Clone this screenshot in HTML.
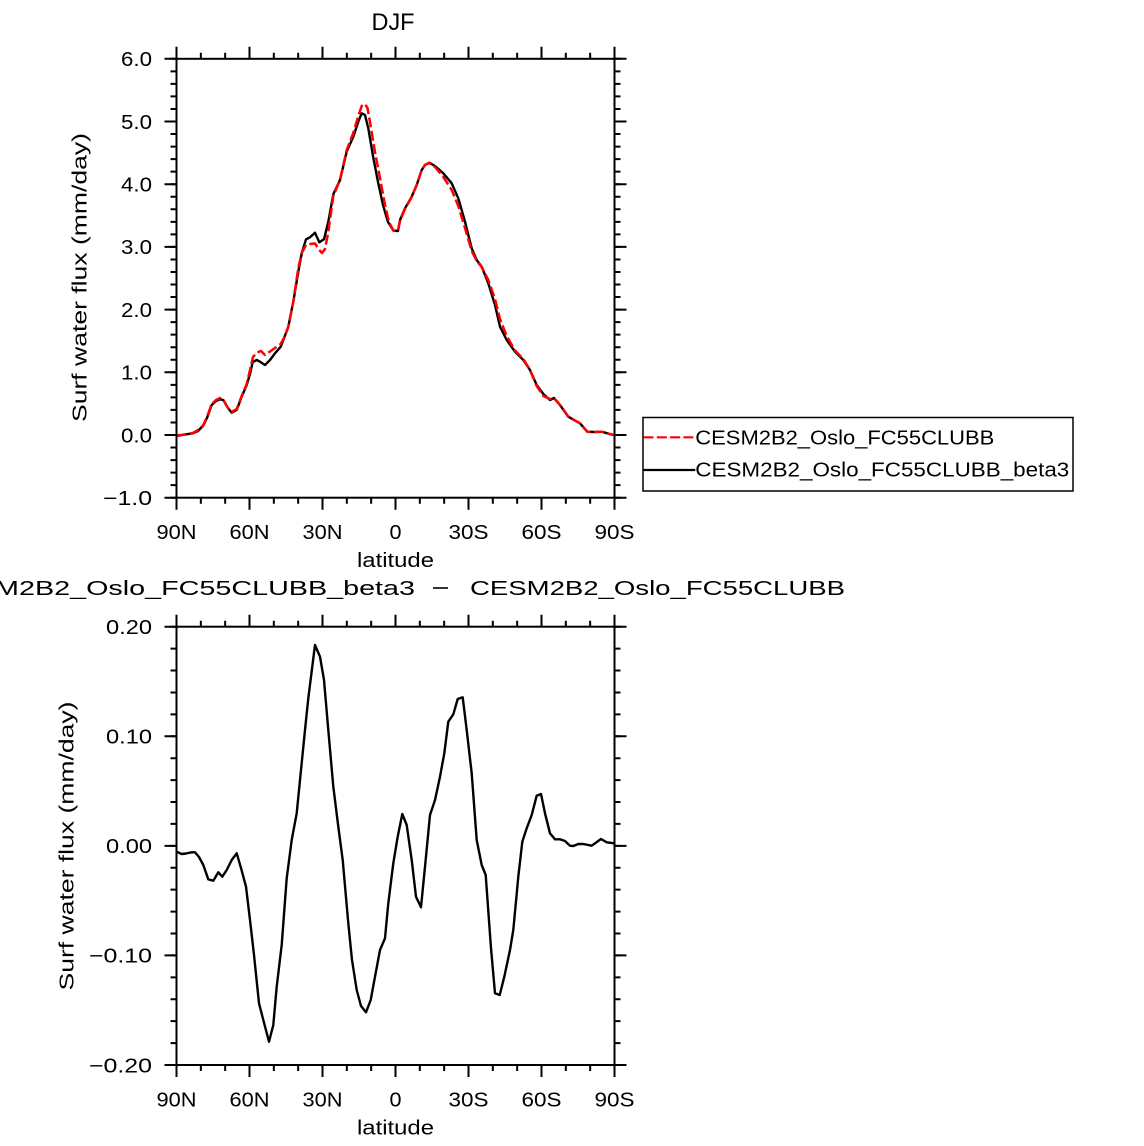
<!DOCTYPE html>
<html>
<head>
<meta charset="utf-8">
<style>
html,body{margin:0;padding:0;background:#fff;}
svg{display:block;}
text{font-family:"Liberation Sans",sans-serif;fill:#000;}
</style>
</head>
<body>
<svg width="1144" height="1146" viewBox="0 0 1144 1146" xmlns="http://www.w3.org/2000/svg">
<rect x="0" y="0" width="1144" height="1146" fill="#fff"/>

<!-- ================= TOP PLOT ================= -->
<text x="393" y="30" font-size="24" text-anchor="middle" textLength="43" lengthAdjust="spacingAndGlyphs">DJF</text>

<!-- curves -->
<polyline fill="none" stroke="#000" stroke-width="2.4" stroke-linejoin="round" points="176.5,435.7 185,434.5 193,433.3 198,431 203.3,425.5 207,418 211.7,405 216,401 220,399.3 223.3,400 228,408 231.7,412.7 236.7,410 241.7,396.7 246.7,385 250,374 252.7,362 256.7,360 260,361.7 265,365 270,360 275,353.3 280.7,346.7 284,338.3 288.3,326.7 293.3,301.7 298.3,271.7 301.7,253.3 306,239.3 310,237.3 315,232.7 319.3,242.3 324,239.3 328.3,221.7 333.3,194.3 340,180 346.7,151.7 353.3,136.7 358.3,121.7 361.7,113.3 365,115 368.3,128.3 373,156 378,182 383,205 388,222 393.3,230.5 398,231 400,220 405,208.3 411.7,196.7 416.7,185 421.7,170 425,165 429.3,162.7 435,166 443.3,173.3 451.7,183.3 458.3,198.3 465,221.7 471.7,248.3 476.7,260 481.7,266.7 488.3,283.3 495,305 500,326.7 506.7,340 515,351.7 523.3,360 530,370 536.7,385 543.3,394 550,400 554,398 560,405 568.3,416.7 580,423.3 587.3,431.7 594,432 601.7,431.7 613.3,435"/>
<polyline fill="none" stroke="#ff0000" stroke-width="2.5" stroke-dasharray="10 3.5" stroke-linejoin="round" points="176.5,436 185,434.5 193,433 198,430 203.3,425 207,417 211.7,404 216,400 220,398 223.3,400 228,408 231.7,412 236.7,409 241.7,396 246.7,384 250,370 253,357 257,352.5 261,351 265,355 270,351.5 275,348 280.7,344 284.5,337 288.3,326.7 293.3,301.7 298.3,268 301.7,253 306,245 310,244 315,243.5 319.3,250 322,253 325,249 328.3,232 333.3,196 340,180 346.7,150 353.3,133 358.3,116 361.7,106 365,104 367.5,108 370,122 375,152 380,178 385,205 389,222 393.3,230.5 398,231 400,221 405,209 411.7,197 416.7,185 421.7,170 425,165 429.3,163 435,167 443.3,177 451.7,190 458.3,206 465,228 471.7,251 476.7,261 481.7,267 488.3,280 495,299 500,319 506.7,336 515,350.5 523.3,359 530,370 536.7,386 543.3,396 550,399 554,398 560,405 568.3,416.7 580,423.3 587.3,431.7 594,432 601.7,431.7 613.3,435"/>

<!-- axes box -->
<rect x="176.5" y="58.8" width="438" height="438.9" fill="none" stroke="#000" stroke-width="2"/>
<!-- left ticks -->
<line x1="173.5" y1="57.8" x2="173.5" y2="499" stroke="#000" stroke-width="6" stroke-dasharray="2 10.54"/>
<line x1="170.5" y1="57.8" x2="170.5" y2="499" stroke="#000" stroke-width="12" stroke-dasharray="2 60.7"/>
<!-- right ticks -->
<line x1="617.5" y1="57.8" x2="617.5" y2="499" stroke="#000" stroke-width="6" stroke-dasharray="2 10.54"/>
<line x1="620.5" y1="57.8" x2="620.5" y2="499" stroke="#000" stroke-width="12" stroke-dasharray="2 60.7"/>
<!-- top ticks -->
<line x1="175.5" y1="55.8" x2="617" y2="55.8" stroke="#000" stroke-width="6" stroke-dasharray="2 22.333"/>
<line x1="175.5" y1="52.8" x2="617" y2="52.8" stroke="#000" stroke-width="12" stroke-dasharray="2 71"/>
<!-- bottom ticks -->
<line x1="175.5" y1="500.7" x2="617" y2="500.7" stroke="#000" stroke-width="6" stroke-dasharray="2 22.333"/>
<line x1="175.5" y1="503.7" x2="617" y2="503.7" stroke="#000" stroke-width="12" stroke-dasharray="2 71"/>

<!-- y tick labels -->
<g font-size="20" text-anchor="end">
<text x="152" y="66.1" textLength="31" lengthAdjust="spacingAndGlyphs">6.0</text>
<text x="152" y="128.8" textLength="31" lengthAdjust="spacingAndGlyphs">5.0</text>
<text x="152" y="191.5" textLength="31" lengthAdjust="spacingAndGlyphs">4.0</text>
<text x="152" y="254.2" textLength="31" lengthAdjust="spacingAndGlyphs">3.0</text>
<text x="152" y="316.9" textLength="31" lengthAdjust="spacingAndGlyphs">2.0</text>
<text x="152" y="379.6" textLength="31" lengthAdjust="spacingAndGlyphs">1.0</text>
<text x="152" y="442.3" textLength="31" lengthAdjust="spacingAndGlyphs">0.0</text>
<text x="152" y="505" textLength="49" lengthAdjust="spacingAndGlyphs">−1.0</text>
</g>
<!-- x tick labels -->
<g font-size="20" text-anchor="middle">
<text x="176.5" y="539" textLength="40" lengthAdjust="spacingAndGlyphs">90N</text>
<text x="249.5" y="539" textLength="40" lengthAdjust="spacingAndGlyphs">60N</text>
<text x="322.5" y="539" textLength="40" lengthAdjust="spacingAndGlyphs">30N</text>
<text x="395.5" y="539" textLength="12" lengthAdjust="spacingAndGlyphs">0</text>
<text x="468.5" y="539" textLength="40" lengthAdjust="spacingAndGlyphs">30S</text>
<text x="541.5" y="539" textLength="40" lengthAdjust="spacingAndGlyphs">60S</text>
<text x="614.5" y="539" textLength="40" lengthAdjust="spacingAndGlyphs">90S</text>
<text x="395.5" y="567" textLength="77" lengthAdjust="spacingAndGlyphs">latitude</text>
</g>
<text transform="translate(86.7,277.5) rotate(-90)" font-size="20" text-anchor="middle" textLength="289" lengthAdjust="spacingAndGlyphs">Surf  water  flux  (mm/day)</text>

<!-- legend -->
<rect x="643" y="417.5" width="430" height="73.5" fill="#fff" stroke="#000" stroke-width="1.5"/>
<line x1="643.5" y1="437.3" x2="695.3" y2="437.3" stroke="#ff0000" stroke-width="2.2" stroke-dasharray="10 3.3"/>
<line x1="643.5" y1="470" x2="695.3" y2="470" stroke="#000" stroke-width="2.2"/>
<text x="695.3" y="444.3" font-size="20" textLength="299" lengthAdjust="spacingAndGlyphs">CESM2B2_Oslo_FC55CLUBB</text>
<text x="695.3" y="476.7" font-size="20" textLength="374" lengthAdjust="spacingAndGlyphs">CESM2B2_Oslo_FC55CLUBB_beta3</text>

<!-- ================= BOTTOM PLOT ================= -->
<text x="-64" y="595" font-size="20" textLength="479" lengthAdjust="spacingAndGlyphs">CESM2B2_Oslo_FC55CLUBB_beta3</text>
<line x1="433" y1="588" x2="448" y2="588" stroke="#000" stroke-width="1.6"/>
<text x="470" y="595" font-size="20" textLength="375" lengthAdjust="spacingAndGlyphs">CESM2B2_Oslo_FC55CLUBB</text>

<polyline fill="none" stroke="#000" stroke-width="2.4" stroke-linejoin="round" points="176.5,851.7 181.7,854 186,853.5 191.7,852.3 195,852.3 199,857 203.3,865 208.3,879.3 213.3,880.7 218.3,872.3 222.3,876.7 226.7,870 231.7,860 236.7,853.3 241,868 246,886.7 250,920 254,955 259,1003.3 263.3,1020 269,1041.7 273.3,1025 276.7,986.7 281.7,945 286.7,878.3 291.7,840 296.7,813.3 300,780 305,730 308.3,698.3 315,645 320,656.7 324,680 328.3,730 333.3,786.7 338.3,826.7 342.7,860 348.3,923.3 352,960 356.7,990 361,1006 366,1012.3 370.7,1000 375,976.7 380,950 385,938.3 388.3,903.3 393.3,863.3 397.7,836.7 402.3,814 406.7,825 411.7,860 416,896.7 421,907.3 425,866.7 430,815 435,800 440,776.7 444.3,753.3 448.3,721.7 453.3,714.3 457.7,699 462.7,697.3 466.7,730 471.7,773.3 476.7,840 481.7,865 485.7,875 491,948.3 495,993.3 499.7,995 504.3,976.7 510,950 513.3,930 518.3,876.7 522.3,841.7 526.7,828.3 531.7,815 536.7,795.7 541,794 545,813.3 550,833.3 555,839.3 560,839.3 565,841 570,845.7 573.3,846 578.3,844 583.3,844 591.7,845.7 601,839 606.7,842.3 614.3,843.3"/>

<rect x="176.5" y="626.7" width="438" height="438.3" fill="none" stroke="#000" stroke-width="2"/>
<!-- left ticks -->
<line x1="173.5" y1="625.7" x2="173.5" y2="1066.5" stroke="#000" stroke-width="6" stroke-dasharray="2 19.915"/>
<line x1="170.5" y1="625.7" x2="170.5" y2="1066.5" stroke="#000" stroke-width="12" stroke-dasharray="2 107.575"/>
<!-- right ticks -->
<line x1="617.5" y1="625.7" x2="617.5" y2="1066.5" stroke="#000" stroke-width="6" stroke-dasharray="2 19.915"/>
<line x1="620.5" y1="625.7" x2="620.5" y2="1066.5" stroke="#000" stroke-width="12" stroke-dasharray="2 107.575"/>
<!-- top ticks -->
<line x1="175.5" y1="623.7" x2="617" y2="623.7" stroke="#000" stroke-width="6" stroke-dasharray="2 22.333"/>
<line x1="175.5" y1="620.7" x2="617" y2="620.7" stroke="#000" stroke-width="12" stroke-dasharray="2 71"/>
<!-- bottom ticks -->
<line x1="175.5" y1="1068" x2="617" y2="1068" stroke="#000" stroke-width="6" stroke-dasharray="2 22.333"/>
<line x1="175.5" y1="1071" x2="617" y2="1071" stroke="#000" stroke-width="12" stroke-dasharray="2 71"/>

<g font-size="20" text-anchor="end">
<text x="152" y="634" textLength="46" lengthAdjust="spacingAndGlyphs">0.20</text>
<text x="152" y="743.6" textLength="46" lengthAdjust="spacingAndGlyphs">0.10</text>
<text x="152" y="853.1" textLength="46" lengthAdjust="spacingAndGlyphs">0.00</text>
<text x="152" y="962.7" textLength="63" lengthAdjust="spacingAndGlyphs">−0.10</text>
<text x="152" y="1072.3" textLength="63" lengthAdjust="spacingAndGlyphs">−0.20</text>
</g>
<g font-size="20" text-anchor="middle">
<text x="176.5" y="1106.5" textLength="40" lengthAdjust="spacingAndGlyphs">90N</text>
<text x="249.5" y="1106.5" textLength="40" lengthAdjust="spacingAndGlyphs">60N</text>
<text x="322.5" y="1106.5" textLength="40" lengthAdjust="spacingAndGlyphs">30N</text>
<text x="395.5" y="1106.5" textLength="12" lengthAdjust="spacingAndGlyphs">0</text>
<text x="468.5" y="1106.5" textLength="40" lengthAdjust="spacingAndGlyphs">30S</text>
<text x="541.5" y="1106.5" textLength="40" lengthAdjust="spacingAndGlyphs">60S</text>
<text x="614.5" y="1106.5" textLength="40" lengthAdjust="spacingAndGlyphs">90S</text>
<text x="395.5" y="1134.3" textLength="77" lengthAdjust="spacingAndGlyphs">latitude</text>
</g>
<text transform="translate(73.7,846) rotate(-90)" font-size="20" text-anchor="middle" textLength="289" lengthAdjust="spacingAndGlyphs">Surf  water  flux  (mm/day)</text>
</svg>
</body>
</html>
